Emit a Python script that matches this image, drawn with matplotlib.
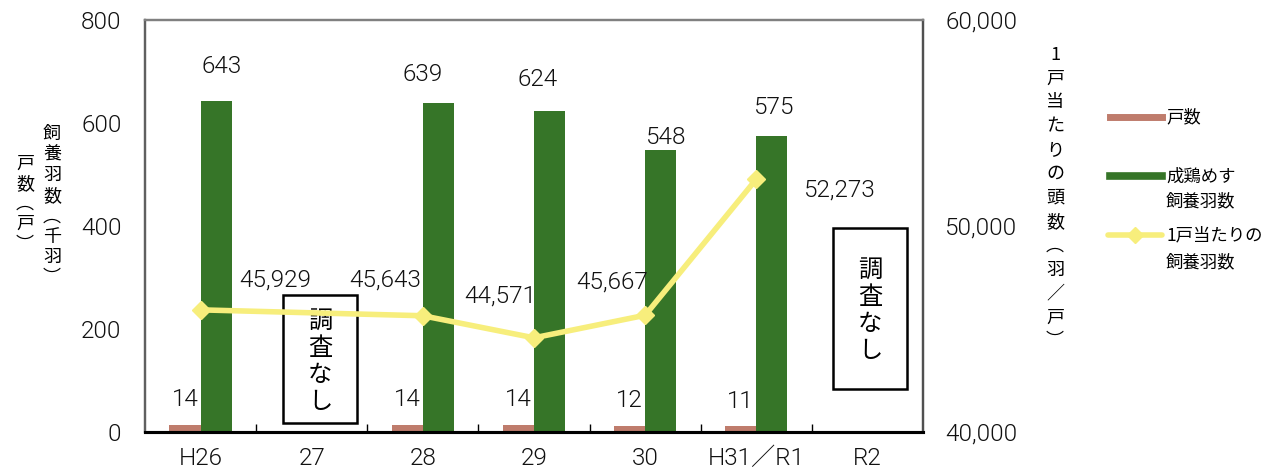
import matplotlib
matplotlib.use("Agg")
import matplotlib.pyplot as plt
from matplotlib.lines import Line2D
from matplotlib.patches import Rectangle
import numpy as np

JP = ['Noto Sans CJK JP', 'DejaVu Sans']
NUM = ['Roboto', 'Noto Sans CJK JP', 'DejaVu Sans']
plt.rcParams['font.family'] = JP

years = ["H26", "27", "28", "29", "30", "H31／R1", "R2"]
households = [14, None, 14, 14, 12, 11, None]                 # 戸数
hens = [643, None, 639, 624, 548, 575, None]                  # 成鶏めす飼養羽数 (千羽)
per_house = [45929, None, 45643, 44571, 45667, 52273, None]   # 1戸当たり (羽/戸)
no_survey = ["27", "R2"]

# label offsets in pixels (dx, dy)
hen_off = [(5, 34), None, (-16, 28), (-12, 31), (6, 12), (2, 28), None]
house_off = [(0, 25), None, (0, 25), (0, 25), (0, 25), (0, 25), None]
per_off = [(75, 30), None, (-38, 36), (-34, 42), (-33, 33), (84, -11), None]

BROWN = "#BF7C6C"
GREEN = "#367528"
YELLOW = "#F7EE7C"
NUMSIZE = 17.5

W, H = 1268, 472
fig = plt.figure(figsize=(W / 100, H / 100), dpi=100)
ax = fig.add_axes([145 / W, 40 / H, 778 / W, 412 / H])
ax2 = ax.twinx()

x = np.arange(len(years))
w = 0.28
for i in range(len(years)):
    if households[i] is not None:
        ax.bar(x[i] - w / 2, households[i], width=w, color=BROWN, zorder=2)
        dx, dy = house_off[i]
        ax.annotate(f"{households[i]}", (x[i] - w / 2, households[i]),
                    xytext=(dx * 0.72, dy * 0.72), textcoords="offset points",
                    ha="center", va="center", fontsize=NUMSIZE, family=NUM,
                    fontweight=300, color="#111111")
    if hens[i] is not None:
        ax.bar(x[i] + w / 2, hens[i], width=w, color=GREEN, zorder=2)
        dx, dy = hen_off[i]
        ax.annotate(f"{hens[i]}", (x[i] + w / 2, hens[i]),
                    xytext=(dx * 0.72, dy * 0.72), textcoords="offset points",
                    ha="center", va="center", fontsize=NUMSIZE, family=NUM,
                    fontweight=300, color="#111111", zorder=5)

# "調査なし" boxes for years without a survey
box_geom = {"27": (1.075, 17.5, 266), "R2": (6.025, 83.5, 396)}
for name in no_survey:
    cx, y0, y1 = box_geom[name]
    ax.add_patch(Rectangle((cx - 0.333, y0), 0.666, y1 - y0, facecolor="white",
                           edgecolor="black", linewidth=1.8, zorder=3))
    ax.text(cx, (y0 + y1) / 2 - 4, "調\n査\nな\nし", ha="center", va="center",
            fontsize=17.5, linespacing=1.05, zorder=4)

ax.set_xlim(-0.5, len(years) - 0.5)
ax.set_ylim(0, 800)
ax.set_yticks([0, 200, 400, 600, 800])
ax.tick_params(axis="y", length=0, pad=17)
ax.set_xticks(x)
ax.set_xticklabels(years)
ax.tick_params(axis="x", which="major", length=0, pad=11)
ax.set_xticks(np.arange(0.5, len(years) - 0.5, 1), minor=True)
ax.tick_params(axis="x", which="minor", direction="in", length=6, width=1)

# per-household line, skipping years without data
px = [x[i] for i in range(len(years)) if per_house[i] is not None]
py = [v for v in per_house if v is not None]
ax2.plot(px, py, color=YELLOW, linewidth=4, marker="D", markersize=9,
         markerfacecolor=YELLOW, markeredgecolor=YELLOW, zorder=5,
         solid_capstyle="round")
for i, v in enumerate(per_house):
    if v is not None:
        dx, dy = per_off[i]
        ax2.annotate(f"{v:,}", (x[i], v), xytext=(dx * 0.72, dy * 0.72),
                     textcoords="offset points", ha="center", va="center",
                     fontsize=NUMSIZE, family=NUM, fontweight=300, color="#111111")
ax2.set_ylim(40000, 60000)
ax2.set_yticks([40000, 50000, 60000])
ax2.set_yticklabels(["40,000", "50,000", "60,000"])
ax2.tick_params(axis="y", length=0, pad=16)

for lab in ax.get_xticklabels() + ax.get_yticklabels() + ax2.get_yticklabels():
    lab.set_fontfamily(NUM)
    lab.set_fontsize(NUMSIZE)
    lab.set_fontweight(300)
    lab.set_color("#111111")

for a in (ax, ax2):
    a.spines["left"].set_color("#606060")
    a.spines["right"].set_color("#505050")
    a.spines["top"].set_color("#808080")
    a.spines["bottom"].set_color("black")
    a.spines["bottom"].set_linewidth(2.2)
    for s in ("left", "right", "top"):
        a.spines[s].set_linewidth(1.6)
ax.set_zorder(1)
ax2.set_zorder(2)
ax2.patch.set_visible(False)

# vertical axis titles
fig.text(52 / W, 1 - 206 / H, "飼\n養\n羽\n数\n︵\n千\n羽\n︶", ha="center", va="center",
         fontsize=13, linespacing=1.18)
fig.text(25 / W, 1 - 204 / H, "戸\n数\n︵\n戸\n︶", ha="center", va="center",
         fontsize=13, linespacing=1.16)
fig.text(1055 / W, 1 - 198 / H, "1\n戸\n当\nた\nり\nの\n頭\n数\n︵\n羽\n／\n戸\n︶",
         ha="center", va="center", fontsize=13, linespacing=1.42)

# legend
def fx(px_):
    return px_ / W

def fy(py_):
    return 1 - py_ / H

fig.add_artist(Line2D([fx(1110), fx(1162)], [fy(117), fy(117)], color=BROWN,
                      linewidth=5, transform=fig.transFigure))
fig.add_artist(Line2D([fx(1110), fx(1162)], [fy(176), fy(176)], color=GREEN,
                      linewidth=5.5, transform=fig.transFigure))
fig.add_artist(Line2D([fx(1108), fx(1162)], [fy(235), fy(235)], color=YELLOW,
                      linewidth=4, transform=fig.transFigure, solid_capstyle="round"))
fig.add_artist(Line2D([fx(1135)], [fy(235)], color=YELLOW, marker="D", markersize=8,
                      linestyle="none", transform=fig.transFigure))
legend_lines = [("戸数", 117), ("成鶏めす", 177), ("飼養羽数", 201),
                ("1戸当たりの", 235), ("飼養羽数", 262)]
for t, yy in legend_lines:
    fig.text(fx(1166), fy(yy), t, ha="left", va="center", fontsize=12.5)

fig.savefig("out.png", dpi=100)
